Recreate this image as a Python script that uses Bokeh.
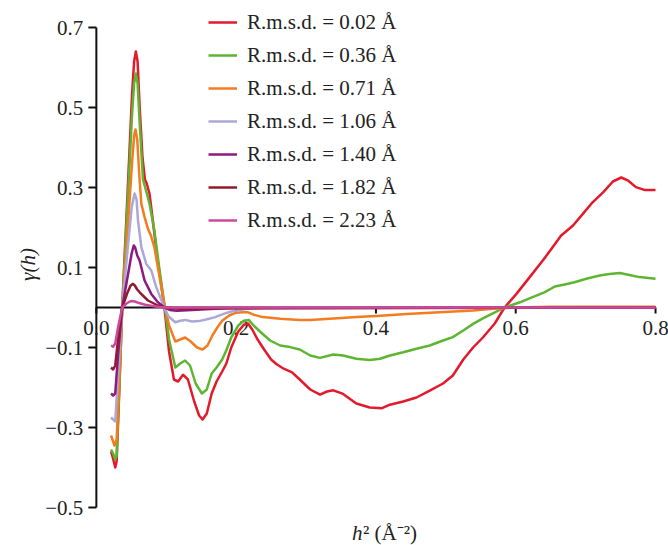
import math
from bokeh.plotting import figure
from bokeh.models import Range1d, Legend, LegendItem, Label
from bokeh.core.properties import value
from bokeh.embed import file_html
from bokeh.resources import INLINE

# ---- data ----
series_names = ["R.m.s.d. = 0.02 Å", "R.m.s.d. = 0.36 Å", "R.m.s.d. = 0.71 Å",
                "R.m.s.d. = 1.06 Å", "R.m.s.d. = 1.40 Å", "R.m.s.d. = 1.82 Å",
                "R.m.s.d. = 2.23 Å"]
series_colors = ["#e31a2c", "#5db531", "#f47b20", "#aba8d8", "#8c1a80", "#921a2e", "#cc4a9e"]

x_002 = [0.021, 0.024, 0.027, 0.029, 0.033, 0.037, 0.045, 0.051, 0.054, 0.0565, 0.059, 0.062,
         0.066, 0.0695, 0.072, 0.076, 0.081, 0.086, 0.093, 0.098, 0.104, 0.111, 0.117, 0.124,
         0.131, 0.14, 0.147, 0.152, 0.158, 0.165, 0.172, 0.18, 0.186, 0.193, 0.203, 0.211,
         0.217, 0.223, 0.23, 0.24, 0.25, 0.258, 0.268, 0.28, 0.291, 0.306, 0.32, 0.33, 0.339,
         0.353, 0.372, 0.391, 0.408, 0.42, 0.439, 0.458, 0.477, 0.496, 0.51, 0.525, 0.539,
         0.553, 0.57, 0.584, 0.601, 0.62, 0.639, 0.653, 0.665, 0.682, 0.696, 0.71, 0.725,
         0.739, 0.751, 0.761, 0.772, 0.784, 0.8]
y_002 = [-0.36, -0.378, -0.40, -0.385, -0.2, 0.0, 0.3, 0.53, 0.615, 0.64, 0.615, 0.5,
         0.375, 0.32, 0.31, 0.285, 0.215, 0.14, 0.055, -0.01, -0.11, -0.18, -0.185, -0.168,
         -0.18, -0.235, -0.27, -0.28, -0.265, -0.215, -0.185, -0.16, -0.14, -0.1, -0.06, -0.043,
         -0.04, -0.055, -0.078, -0.105, -0.13, -0.142, -0.153, -0.162, -0.18, -0.205, -0.218,
         -0.21, -0.207, -0.216, -0.24, -0.25, -0.252, -0.243, -0.235, -0.225, -0.208, -0.19,
         -0.17, -0.13, -0.1, -0.075, -0.04, 0.0, 0.034, 0.076, 0.118, 0.151, 0.18, 0.205,
         0.234, 0.263, 0.288, 0.315, 0.325, 0.317, 0.301, 0.294, 0.294]

x_036 = [0.021, 0.024, 0.027, 0.029, 0.033, 0.037, 0.045, 0.051, 0.054, 0.0565, 0.059, 0.062,
         0.0667, 0.0714, 0.076, 0.083, 0.0904, 0.0976, 0.104, 0.113, 0.12, 0.127, 0.134, 0.142,
         0.151, 0.158, 0.165, 0.172, 0.18, 0.186, 0.193, 0.203, 0.211, 0.218, 0.225, 0.234,
         0.2486, 0.2629, 0.277, 0.291, 0.306, 0.32, 0.339, 0.353, 0.372, 0.391, 0.406, 0.42,
         0.439, 0.458, 0.477, 0.496, 0.51, 0.525, 0.539, 0.553, 0.568, 0.584, 0.606, 0.624,
         0.641, 0.656, 0.67, 0.684, 0.701, 0.72, 0.734, 0.749, 0.761, 0.777, 0.8]
y_036 = [-0.355, -0.365, -0.38, -0.37, -0.19, 0.0, 0.27, 0.48, 0.56, 0.585, 0.56, 0.46,
         0.32, 0.29, 0.26, 0.1925, 0.0925, 0.005, -0.08, -0.15, -0.14, -0.1325, -0.145, -0.19,
         -0.215, -0.205, -0.165, -0.15, -0.13, -0.107, -0.075, -0.045, -0.033, -0.031, -0.045,
         -0.06, -0.0825, -0.095, -0.099, -0.105, -0.12, -0.126, -0.1175, -0.12, -0.128, -0.131,
         -0.128, -0.12, -0.112, -0.103, -0.095, -0.0825, -0.074, -0.0575, -0.041, -0.027,
         -0.014, 0.0, 0.013, 0.026, 0.038, 0.0525, 0.0575, 0.063, 0.072, 0.08, 0.084, 0.086,
         0.082, 0.076, 0.072]

x_071 = [0.021, 0.023, 0.026, 0.029, 0.033, 0.037, 0.045, 0.051, 0.054, 0.056, 0.0585, 0.0615,
         0.0643, 0.069, 0.0738, 0.078, 0.083, 0.0904, 0.0976, 0.104, 0.113, 0.12, 0.127, 0.135,
         0.144, 0.152, 0.159, 0.166, 0.173, 0.18, 0.19, 0.2, 0.21, 0.217, 0.225, 0.238, 0.263,
         0.291, 0.306, 0.334, 0.372, 0.401, 0.444, 0.491, 0.539, 0.563, 0.6, 0.65, 0.7, 0.75, 0.8]
y_071 = [-0.32, -0.33, -0.345, -0.33, -0.17, 0.0, 0.2, 0.36, 0.43, 0.445, 0.42, 0.33,
         0.26, 0.226, 0.197, 0.18, 0.151, 0.076, 0.005, -0.045, -0.085, -0.08, -0.075, -0.085,
         -0.1, -0.105, -0.095, -0.07, -0.05, -0.033, -0.02, -0.013, -0.012, -0.012, -0.018,
         -0.024, -0.028, -0.031, -0.031, -0.028, -0.024, -0.021, -0.016, -0.012, -0.0075,
         -0.004, 0.0, 0.002, 0.002, 0.002, 0.002]

x_106 = [0.021, 0.024, 0.027, 0.031, 0.037, 0.045, 0.0505, 0.0547, 0.0575, 0.0596, 0.0643,
         0.0714, 0.0786, 0.0857, 0.095, 0.103, 0.113, 0.12, 0.127, 0.137, 0.147, 0.157, 0.17,
         0.182, 0.193, 0.205, 0.215, 0.23, 0.25, 0.3, 0.8]
y_106 = [-0.275, -0.28, -0.285, -0.17, 0.0, 0.15, 0.25, 0.285, 0.27, 0.2175, 0.151,
         0.109, 0.0925, 0.051, 0.009, -0.022, -0.037, -0.033, -0.031, -0.035, -0.034, -0.03,
         -0.024, -0.016, -0.01, -0.006, -0.003, -0.001, 0.0, 0.0, 0.0]

x_140 = [0.021, 0.024, 0.027, 0.031, 0.037, 0.045, 0.0505, 0.0535, 0.0555, 0.0585, 0.0619,
         0.069, 0.0786, 0.088, 0.0976, 0.105, 0.115, 0.13, 0.15, 0.17, 0.2, 0.8]
y_140 = [-0.215, -0.22, -0.215, -0.12, 0.0, 0.08, 0.135, 0.155, 0.15, 0.13, 0.1175,
         0.0675, 0.034, 0.013, 0.0, -0.006, -0.008, -0.007, -0.005, -0.003, -0.001, 0.0]

x_182 = [0.021, 0.024, 0.027, 0.031, 0.037, 0.044, 0.049, 0.0524, 0.055, 0.0585, 0.0619,
         0.0738, 0.088, 0.1, 0.12, 0.15, 0.8]
y_182 = [-0.15, -0.155, -0.145, -0.08, 0.0, 0.035, 0.055, 0.059, 0.055, 0.045, 0.038,
         0.0175, 0.005, 0.0, -0.003, -0.002, 0.0]

x_223 = [0.021, 0.024, 0.027, 0.031, 0.037, 0.043, 0.048, 0.051, 0.055, 0.06, 0.07, 0.08,
         0.09, 0.1, 0.8]
y_223 = [-0.095, -0.098, -0.09, -0.05, 0.0, 0.01, 0.015, 0.016, 0.015, 0.012, 0.007, 0.004,
         0.001, 0.0, 0.0]

xs_all = [x_002, x_036, x_071, x_106, x_140, x_182, x_223]
ys_all = [y_002, y_036, y_071, y_106, y_140, y_182, y_223]

x_ticks = [0.0, 0.2, 0.4, 0.6, 0.8]
x_tick_labels = ["0.0", "0.2", "0.4", "0.6", "0.8"]
y_ticks = [0.7, 0.5, 0.3, 0.1, -0.1, -0.3, -0.5]
y_tick_labels = ["0.7", "0.5", "0.3", "0.1", "\u22120.1", "\u22120.3", "\u22120.5"]

FONT = "Liberation Serif"
TXT = "#222222"
AX = "#111111"
PX_X = 700.0   # px per x unit
PX_Y = 400.0   # px per y unit

# plot area spans the whole canvas; axes are drawn at x = 0 and y = 0
p = figure(width=668, height=545, output_backend="svg", toolbar_location=None,
           x_range=Range1d(-96 / PX_X, 0.8 + 13 / PX_X),
           y_range=Range1d(-0.5 - 38 / PX_Y, 0.7 + 27 / PX_Y),
           x_axis_location=None, y_axis_location=None,
           min_border_left=0, min_border_right=0, min_border_top=0, min_border_bottom=0)
p.outline_line_color = None
p.xgrid.visible = False
p.ygrid.visible = False
p.background_fill_color = "white"
p.border_fill_color = "white"

n_x = len(x_ticks)
n_y = len(y_ticks)

# y axis: line, ticks, labels
p.segment(x0=[0], y0=[min(y_ticks)], x1=[0], y1=[max(y_ticks)], line_color=AX, line_width=2)
p.segment(x0=[0] * n_y, y0=y_ticks, x1=[-8 / PX_X] * n_y, y1=y_ticks,
          line_color=AX, line_width=2)
p.text(x=[0] * n_y, y=y_ticks, text=y_tick_labels, x_offset=-13,
       text_align="right", text_baseline="middle", text_font=value(FONT),
       text_font_size="21px", text_color=TXT)

# x axis along y = 0: line, ticks, labels
p.segment(x0=[x_ticks[0]], y0=[0], x1=[x_ticks[-1]], y1=[0], line_color=AX, line_width=2)
p.segment(x0=x_ticks, y0=[0] * n_x, x1=x_ticks, y1=[-6 / PX_Y] * n_x,
          line_color=AX, line_width=2)
p.text(x=x_ticks, y=[0] * n_x, text=x_tick_labels, y_offset=13,
       text_align="center", text_baseline="top", text_font=value(FONT),
       text_font_size="21px", text_color=TXT)

items = []
for name, col, xs, ys in zip(series_names, series_colors, xs_all, ys_all):
    r = p.line(xs, ys, line_color=col, line_width=2.5, line_join="round", level="overlay")
    items.append(LegendItem(label=name, renderers=[r]))

legend = Legend(items=items, location=(208, 312), padding=0, margin=0, spacing=7,
                glyph_height=26, label_height=26, glyph_width=29, label_standoff=10,
                label_text_font=FONT, label_text_font_size="21px", label_text_color=TXT,
                border_line_color=None, background_fill_alpha=0)
p.add_layout(legend)

# axis titles
p.add_layout(Label(x=-68 / PX_X, y=0.1 + 3 / PX_Y, text="\u03b3(h)", angle=math.pi / 2,
                   text_align="center", text_baseline="middle", text_font=FONT,
                   text_font_size="21px", text_font_style="italic", text_color=TXT))
p.add_layout(Label(x=256 / PX_X, y=-0.5 - 25 / PX_Y, text="h", text_align="left",
                   text_baseline="alphabetic", text_font=FONT, text_font_size="21px",
                   text_font_style="italic", text_color=TXT))
p.add_layout(Label(x=267 / PX_X, y=-0.5 - 25 / PX_Y, text="\u00b2 (\u00c5\u207b\u00b2)",
                   text_align="left", text_baseline="alphabetic", text_font=FONT,
                   text_font_size="21px", text_color=TXT))

open("out.html", "w").write(file_html(p, INLINE))
